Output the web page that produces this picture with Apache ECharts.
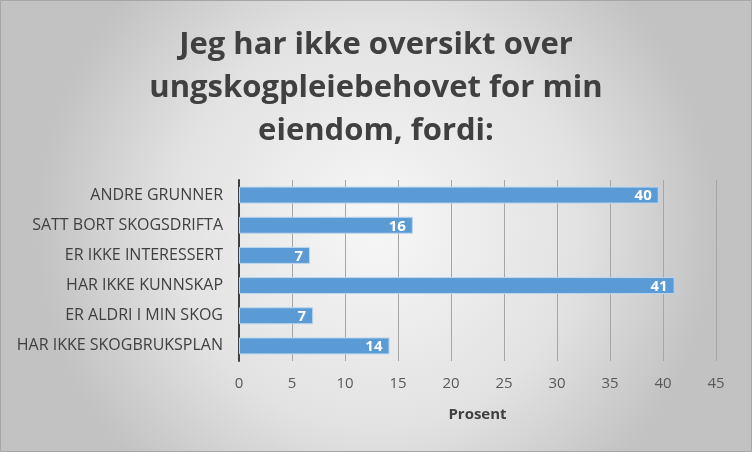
<!DOCTYPE html>
<html lang="no">
<head>
  <meta charset="utf-8">
  <title>Ungskogpleie</title>
  <script src="https://cdn.jsdelivr.net/npm/echarts@6/dist/echarts.min.js"></script>
  <style>
    html, body { margin: 0; padding: 0; }
    #main { width: 752px; height: 452px; }
  </style>
</head>
<body>
<div id="main"></div>
<script type="text/javascript">
// kategorier nedenfra og opp (echarts tegner første kategori nederst)
var categories = ['HAR IKKE SKOGBRUKSPLAN', 'ER ALDRI I MIN SKOG', 'HAR IKKE KUNNSKAP',
                  'ER IKKE INTERESSERT', 'SATT BORT SKOGSDRIFTA', 'ANDRE GRUNNER'];
var values = [14.2, 7.0, 41.1, 6.7, 16.4, 39.6];
var xTicks = [0, 5, 10, 15, 20, 25, 30, 35, 40, 45];

var myChart = echarts.init(document.getElementById('main'));

var option = {
    backgroundColor: {
        type: 'radial', x: 0.5, y: 0.5, r: 0.75,
        colorStops: [
            {offset: 0, color: '#f7f7f7'},
            {offset: 0.6, color: '#e2e2e2'},
            {offset: 1, color: '#c2c2c2'}
        ]
    },
    // tynn ramme rundt hele figuren
    graphic: [{
        type: 'rect',
        shape: {x: 0.5, y: 0.5, width: 751, height: 451},
        style: {fill: 'none', stroke: '#a6a6a6', lineWidth: 1},
        silent: true
    }],
    title: {
        text: 'Jeg har ikke oversikt over\nungskogpleiebehovet for min\neiendom, fordi:',
        left: 'center',
        top: 19,
        textStyle: {
            fontFamily: 'Open Sans',
            fontSize: 31,
            fontWeight: 'bold',
            color: '#404040',
            lineHeight: 43
        }
    },
    grid: {left: 239, right: 36, top: 180, bottom: 91, containLabel: false},
    xAxis: {
        type: 'value',
        min: 0,
        max: xTicks[xTicks.length - 1],
        interval: 5,
        name: 'Prosent',
        nameLocation: 'middle',
        nameGap: 46,
        nameTextStyle: {fontFamily: 'Open Sans', fontSize: 15, fontWeight: 'bold', color: '#404040'},
        axisLine: {show: false},
        axisTick: {show: false},
        axisLabel: {fontFamily: 'Open Sans', fontSize: 15, color: '#595959', margin: 15},
        splitLine: {show: true, lineStyle: {color: '#a6a6a6', width: 1}}
    },
    yAxis: {
        type: 'category',
        data: categories,
        axisLine: {show: true, lineStyle: {color: '#404040', width: 2}},
        axisTick: {show: false},
        axisLabel: {fontFamily: 'Open Sans', fontSize: 16, color: '#404040', margin: 16}
    },
    series: [{
        type: 'bar',
        data: values,
        barWidth: 17,
        itemStyle: {color: '#5b9bd5', borderColor: '#bdd7ee', borderWidth: 1},
        label: {
            show: true,
            position: 'insideRight',
            offset: [-2, 1],
            fontFamily: 'Open Sans',
            fontSize: 15,
            fontWeight: 'bold',
            color: '#ffffff',
            formatter: function (p) { return Math.round(p.value); }
        }
    }]
};

if (option && typeof option === "object") {
    myChart.setOption(option, true);
}
</script>
</body>
</html>
